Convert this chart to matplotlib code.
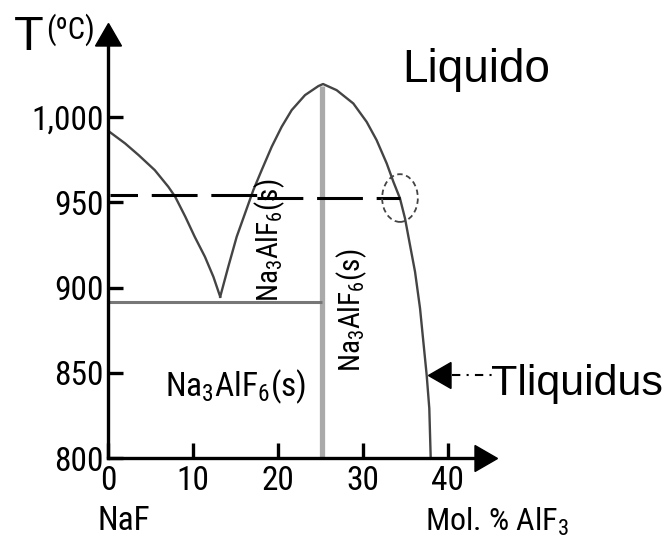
import os
import matplotlib
matplotlib.use('Agg')
import matplotlib.pyplot as plt
from matplotlib import font_manager
from matplotlib.font_manager import FontProperties
from matplotlib.patches import Ellipse


def find_narrow():
    # the original uses an Arial Narrow look; take whatever condensed sans is installed
    prefs = ['liberationsansnarrow-regular', 'notosans-condensed.', 'robotocondensed-regular',
             'opensans_condensed-regular', 'dejavusanscondensed.', 'notosans-semicondensed.']
    files = [f.fname for f in font_manager.fontManager.ttflist]
    for p in prefs:
        for fn in files:
            if p in os.path.basename(fn).lower():
                return fn
    return None


narrow_file = find_narrow()
is_dejavu = narrow_file is not None and 'dejavu' in os.path.basename(narrow_file).lower()


def narrow(size):
    if narrow_file:
        # DejaVu condensed still runs wider than Arial Narrow
        return FontProperties(fname=narrow_file, size=size * (0.9 if is_dejavu else 1.0))
    return FontProperties(family='Liberation Sans', size=size * 0.86)


def wide(size):
    return FontProperties(family='Liberation Sans', size=size)


plt.rcParams['font.family'] = ['Liberation Sans', 'DejaVu Sans']
plt.rcParams['mathtext.default'] = 'regular'

# liquidus of NaF (left branch, down to the eutectic)
naf_x = [0, 2.0, 3.6, 5.5, 7.1, 7.9, 9.1, 10.2, 11.4, 12.4, 13.2]
naf_T = [992, 984.6, 977.7, 968.9, 959.1, 953.3, 941.5, 929.8, 918.1, 906.3, 894.6]

# liquidus of cryolite (eutectic -> congruent melting -> AlF3 side)
cry_x = [13.2, 14.15, 15.14, 16.12, 17.1, 18.08, 19.26, 20.43, 21.61, 23.18, 24.75, 25.3,
         26.9, 28.86, 30.43, 31.6, 32.79, 33.57, 34.35, 34.94, 35.53, 36.12, 36.71,
         37.1, 37.49, 37.8, 37.96]
cry_T = [894.6, 912.2, 929.8, 943.5, 957.2, 968.9, 982.6, 994.3, 1004.1, 1012.9, 1018.2, 1019.4,
         1015.8, 1008.0, 997.2, 986.5, 972.8, 962.1, 952.3, 940.6, 924.9, 909.3, 887.8,
         868.2, 848.7, 829.1, 800.8]

solidus_x = [0, 25.2]
solidus_T = [891.7, 891.7]
cryolite_x = [25.2, 25.2]
cryolite_T = [800, 1018]

# operating temperature (dashed), slight step in the original drawing
op_left_x = [0.2, 17.5]
op_left_T = [954.3, 954.3]
op_right_x = [17.5, 34.4]
op_right_T = [952.5, 952.5]

yticks = [800, 850, 900, 950, 1000]
ytick_labels = ['800', '850', '900', '950', '1,000']
xticks = [0, 10, 20, 30, 40]
xtick_labels = ['0', '10', '20', '30', '40']

tliq_x = 37.6
tliq_T = 848.7

fig = plt.figure(figsize=(6.72, 5.37), dpi=100)
ax = fig.add_axes([108/672, 79/537, 374/672, 420/537])
ax.set_xlim(0, 44.0)
ax.set_ylim(800, 1046.4)

for s in ['top', 'right']:
    ax.spines[s].set_visible(False)
for s in ['left', 'bottom']:
    ax.spines[s].set_linewidth(2.4)

# arrow heads on the axes
ax.plot(1, 0, marker=(3, 0, -90), ms=21.6, color='k', transform=ax.transAxes, clip_on=False)
ax.plot(0, 1, marker=(3, 0, 0), ms=21.6, color='k', transform=ax.transAxes, clip_on=False)

ax.set_xticks(xticks)
ax.set_xticklabels(xtick_labels)
ax.set_yticks(yticks)
ax.set_yticklabels(ytick_labels)
ax.tick_params(direction='in', length=11, width=2.4)
ax.tick_params(axis='x', pad=5)
ax.tick_params(axis='y', pad=3)
for lab in ax.get_xticklabels() + ax.get_yticklabels():
    lab.set_fontproperties(narrow(24))

ax.plot(cryolite_x, cryolite_T, color='#aaaaaa', lw=3.8, solid_capstyle='butt', zorder=1)
ax.plot(solidus_x, solidus_T, color='#777777', lw=2.2, solid_capstyle='butt', zorder=1)
ax.plot(naf_x, naf_T, color='#444444', lw=1.7, zorder=2)
ax.plot(cry_x, cry_T, color='#444444', lw=1.7, zorder=2)

ax.plot(op_left_x, op_left_T, color='k', lw=2.2, ls=(6, (15, 4.5)), zorder=3)
ax.plot(op_right_x, op_right_T, color='k', lw=2.2, ls=(0, (15, 4.5)), zorder=3)
ax.add_patch(Ellipse((34.35, 952.5), 4.2, 28, fill=False, ec='#444444', lw=1.3,
                     ls=(0, (3, 2)), zorder=3))

# Tliquidus pointer
ax.plot(tliq_x + 1.8, tliq_T, marker=(3, 0, 90), ms=21.6, color='k', clip_on=False)
ax.plot([40.5, 45.6], [tliq_T, tliq_T], color='k', lw=1.5, ls=(0, (4, 3, 1, 3)), clip_on=False)
ax.text(45.0, 837, 'Tliquidus', fontproperties=wide(31), ha='left', va='baseline')

ax.text(34.6, 1020.5, 'Liquido', fontproperties=wide(33), ha='left', va='baseline')

ax.text(6.7, 836.4, r'Na$\mathregular{_3}$AlF$\mathregular{_6}$(s)', fontproperties=narrow(24),
        ha='left', va='baseline')
ax.text(19.06, 927.9, r'Na$\mathregular{_3}$AlF$\mathregular{_6}$(s)', fontproperties=narrow(21),
        rotation=90, ha='center', va='center')
ax.text(28.7, 886.8, r'Na$\mathregular{_3}$AlF$\mathregular{_6}$(s)', fontproperties=narrow(21),
        rotation=90, ha='center', va='center')

ax.text(-1.29, 757.5, 'NaF', fontproperties=narrow(24), ha='left', va='baseline')
ax.text(37.3, 757.5, r'Mol. % AlF$\mathregular{_3}$', fontproperties=narrow(23),
        ha='left', va='baseline')

ax.text(-11.06, 1039.3, 'T', fontproperties=wide(35), ha='left', va='baseline')
ax.text(-7.29, 1061, '(\u00baC)', fontproperties=narrow(22), ha='left', va='top')

fig.savefig('out.png', dpi=100)
